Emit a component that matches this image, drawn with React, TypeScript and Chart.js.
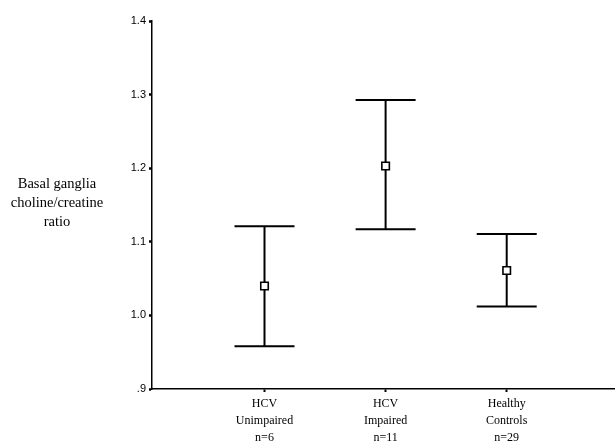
import React, { useEffect, useRef } from "react";
import { Chart, registerables } from "chart.js";

Chart.register(...registerables);

const groupPositions = [1, 2, 3];
const groupLabels = [
  ["HCV", "Unimpaired", "n=6"],
  ["HCV", "Impaired", "n=11"],
  ["Healthy", "Controls", "n=29"],
];
const meanValues = [1.04, 1.203, 1.061];
const upperValues = [1.121, 1.2925, 1.1106];
const lowerValues = [0.958, 1.117, 1.0122];
const yTitleLines = ["Basal ganglia", "choline/creatine", "ratio"];

const errorBarPlugin = {
  id: "errorBars",
  beforeDatasetsDraw(chart: any) {
    const { ctx, scales } = chart;
    const xs = scales.x;
    const ys = scales.y;
    ctx.save();
    ctx.strokeStyle = "#000";
    ctx.lineWidth = 2;
    groupPositions.forEach((g, i) => {
      const x = xs.getPixelForValue(g);
      const yU = ys.getPixelForValue(upperValues[i]);
      const yL = ys.getPixelForValue(lowerValues[i]);
      const half = 30;
      ctx.beginPath();
      ctx.moveTo(x, yU);
      ctx.lineTo(x, yL);
      ctx.moveTo(x - half, yU);
      ctx.lineTo(x + half, yU);
      ctx.moveTo(x - half, yL);
      ctx.lineTo(x + half, yL);
      ctx.stroke();
    });
    ctx.restore();
  },
  afterDraw(chart: any) {
    const { ctx } = chart;
    ctx.save();
    ctx.fillStyle = "#000";
    ctx.font = '14.5px "Liberation Serif", "Times New Roman", serif';
    ctx.textAlign = "center";
    ctx.textBaseline = "middle";
    const cy = chart.scales.y.getPixelForValue(1.2) + 35;
    yTitleLines.forEach((t, i) => {
      ctx.fillText(t, 57, cy + (i - 1) * 19);
    });
    ctx.restore();
  },
};

export default function App() {
  const ref = useRef<HTMLCanvasElement>(null);
  useEffect(() => {
    document.body.style.margin = "0";
    const canvas = ref.current!;
    const chart = new Chart(canvas, {
      type: "scatter",
      data: {
        datasets: [
          {
            data: groupPositions.map((g, i) => ({ x: g, y: meanValues[i] })),
            pointStyle: "rect",
            pointRadius: 5.3,
            pointBorderWidth: 1.6,
            pointBorderColor: "#000",
            pointBackgroundColor: "#fff",
          },
        ],
      },
      options: {
        animation: false,
        responsive: false,
        maintainAspectRatio: false,
        events: [],
        layout: { autoPadding: false, padding: { top: 21, right: 1, left: 0, bottom: 0 } },
        plugins: {
          legend: { display: false },
          tooltip: { enabled: false },
          title: { display: false },
        },
        scales: {
          x: {
            type: "linear",
            min: 0.071,
            max: 3.886,
            afterBuildTicks: (scale: any) => {
              scale.ticks = groupPositions.map((v) => ({ value: v }));
            },
            afterFit: (scale: any) => {
              scale.height = 53;
            },
            ticks: {
              autoSkip: false,
              maxRotation: 0,
              color: "#000",
              padding: 3,
              font: { family: '"Liberation Serif", "Times New Roman", serif', size: 12, lineHeight: 1.42 },
              callback: (v: any) => groupLabels[Math.round(Number(v)) - 1] || "",
            },
            grid: { drawOnChartArea: false, drawTicks: true, tickLength: 3, tickWidth: 2, color: "#000" },
            border: { display: true, color: "#000", width: 1.5 },
          },
          y: {
            type: "linear",
            min: 0.9,
            max: 1.4,
            afterFit: (scale: any) => {
              scale.width = 152;
            },
            ticks: {
              stepSize: 0.1,
              color: "#000",
              padding: 3,
              font: { family: '"Liberation Sans", Arial, sans-serif', size: 11 },
              callback: (v: any) => {
                const n = Number(v);
                if (Math.abs(n - 0.9) < 1e-6) return ".9";
                return n.toFixed(1);
              },
            },
            grid: { drawOnChartArea: false, drawTicks: true, tickLength: 3, tickWidth: 2.5, color: "#000" },
            border: { display: true, color: "#000", width: 1.5 },
          },
        },
      },
      plugins: [errorBarPlugin],
    } as any);
    return () => chart.destroy();
  }, []);
  return (
    <div style={{ width: 615, height: 442 }}>
      <canvas ref={ref} width={615} height={442} style={{ display: "block" }} />
    </div>
  );
}
